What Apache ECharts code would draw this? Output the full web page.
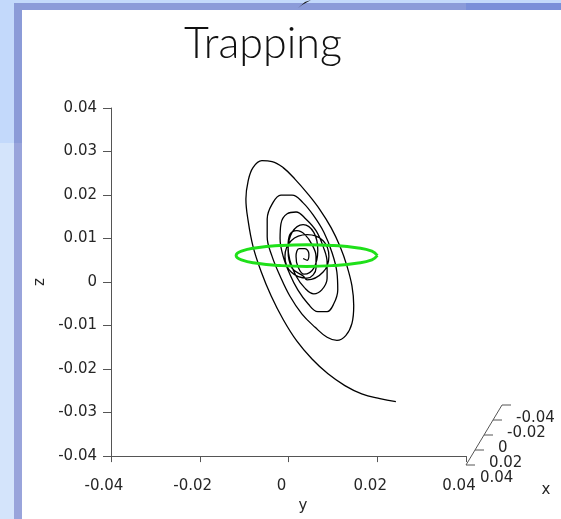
<!DOCTYPE html>
<html><head><meta charset="utf-8">
<script src="https://cdn.jsdelivr.net/npm/echarts@6/dist/echarts.min.js"></script>
<style>
html,body{margin:0;padding:0;background:#ffffff;overflow:hidden}
#bg{position:absolute;left:0;top:0;width:561px;height:519px}
#bg div{position:absolute}
#c{position:absolute;left:0;top:0;width:561px;height:519px}
</style>
</head><body>
<div id="bg">
  <div style="left:0px;top:0px;width:14px;height:143px;background:#c3d9fb"></div>
  <div style="left:0px;top:143px;width:14px;height:376px;background:#d4e4fb"></div>
  <div style="left:14px;top:0px;width:547px;height:3px;background:#c3d9fb"></div>
  <div style="left:14px;top:3px;width:8px;height:140px;background:#8b9bd8"></div>
  <div style="left:14px;top:143px;width:8px;height:376px;background:#99a4db"></div>
  <div style="left:22px;top:3px;width:444px;height:7px;background:#8b9bd9"></div>
  <div style="left:466px;top:3px;width:95px;height:7px;background:#7a8fd9"></div>
</div>
<div id="c"></div>
<script>
// Trajectory projected on the (y, z) plane
const trajY = [0.0242,0.0206,0.0165,0.0127,0.0089,0.0053,0.0019,-0.0012,-0.0039,-0.0062,
  -0.0080,-0.0091,-0.0096,-0.0091,-0.0080,-0.0060,-0.0037,-0.0012,0.0015,0.0044,
  0.0071,0.0096,0.0116,0.0132,0.0143,0.0147,0.0143,0.0129,0.0109,0.0087,
  0.0060,0.0030,0.0003,-0.0019,-0.0037,-0.0048,-0.0048,-0.0037,-0.0017,0.0008,
  0.0033,0.0057,0.0080,0.0098,0.0109,0.0111,0.0102,0.0087,0.0066,0.0044,
  0.0021,0.0003,-0.0012,-0.0019,-0.0017,-0.0003,0.0017,0.0039,0.0062,0.0078,
  0.0087,0.0087,0.0075,0.0057,0.0037,0.0017,0.0003,-0.0001,0.0003,0.0019,
  0.0037,0.0053,0.0062,0.0062,
  0.0042,0.0006,-0.0008,0.0006,0.0042,0.0078,0.0091,0.0078,0.0042,
  0.0033,0.0008,-0.0001,0.0008,0.0033,0.0057,0.0066,0.0057,0.0035,
  0.0021,0.0017,0.0024,0.0037,0.0046,0.0042,0.0033];
const trajZ = [-0.0275,-0.0268,-0.0257,-0.0238,-0.0211,-0.0177,-0.0136,-0.0086,-0.0032,0.0025,
  0.0082,0.0141,0.0191,0.0232,0.0263,0.0279,0.0277,0.0263,0.0236,0.0202,
  0.0166,0.0125,0.0082,0.0036,-0.0009,-0.0054,-0.0095,-0.0123,-0.0134,-0.0127,
  -0.0104,-0.0073,-0.0032,0.0014,0.0059,0.0104,0.0145,0.0179,0.0200,0.0200,
  0.0182,0.0152,0.0114,0.0068,0.0023,-0.0018,-0.0050,-0.0068,-0.0068,-0.0050,
  -0.0018,0.0018,0.0059,0.0100,0.0134,0.0157,0.0161,0.0145,0.0118,0.0082,
  0.0045,0.0009,-0.0018,-0.0027,-0.0014,0.0014,0.0050,0.0082,0.0109,0.0118,
  0.0109,0.0086,0.0059,0.0032,
  0.0009,0.0023,0.0059,0.0095,0.0109,0.0095,0.0059,0.0023,0.0005,
  0.0014,0.0032,0.0073,0.0114,0.0132,0.0114,0.0073,0.0032,0.0018,
  0.0036,0.0059,0.0077,0.0077,0.0064,0.0050,0.0054];
// Green trap ring (projected)
const ringY = [0.0200,0.0188,0.0153,0.0102,0.0041,-0.0020,-0.0071,-0.0106,-0.0118,-0.0106,-0.0071,-0.0020,0.0041,0.0102,0.0153,0.0188,0.0200];
const ringZ = [0.0061,0.0071,0.0079,0.0084,0.0086,0.0084,0.0079,0.0071,0.0061,0.0051,0.0043,0.0038,0.0036,0.0038,0.0043,0.0051,0.0061];
// Tick labels
const zTicks = [-0.04,-0.03,-0.02,-0.01,0,0.01,0.02,0.03,0.04];
const zTickLabels = ['-0.04','-0.03','-0.02','-0.01','0','0.01','0.02','0.03','0.04'];
const yTicks = [-0.04,-0.02,0,0.02,0.04];
const yTickLabels = ['-0.04','-0.02','0','0.02','0.04'];
const xTicks = [-0.04,-0.02,0,0.02,0.04];
const xTickLabels = ['-0.04','-0.02','0','0.02','0.04'];

function lab(ticks, labels, v){
  for (let i=0;i<ticks.length;i++) if (Math.abs(ticks[i]-v)<1e-9) return labels[i];
  return '';
}
const AX = '#555555', TX = '#262626', FONT = 'DejaVu Sans';

const chart = echarts.init(document.getElementById('c'), null, {renderer:'canvas'});
chart.setOption({
  backgroundColor: 'transparent',
  animation: false,
  graphic: [
    {type:'polygon', shape:{points:[[298,8],[305,2],[311,0],[302,5]]}, style:{fill:'#111'}},
    {type:'text', x:263, y:44, style:{text:'Trapping', fontFamily:'Lato', fontWeight:300, fontSize:43, fill:'#111', textAlign:'center', textVerticalAlign:'middle'}},
    {type:'text', x:546, y:490, style:{text:'x', font:'15px DejaVu Sans', fill:TX, textAlign:'center', textVerticalAlign:'middle'}}
  ],
  grid: [
    {left:111, top:108, width:355, height:353},
    {left:466, top:405, width:36, height:60}
  ],
  xAxis: [
    {gridIndex:0, type:'value', min:-0.04, max:0.04, interval:0.02,
     name:'y', nameLocation:'middle', nameGap:41,
     nameTextStyle:{color:TX, fontSize:15, fontFamily:FONT, padding:[0,0,0,29]},
     axisLine:{onZero:false, lineStyle:{color:AX}}, axisTick:{show:true, length:6, lineStyle:{color:AX}},
     splitLine:{show:false},
     axisLabel:{color:TX, fontSize:15, fontFamily:FONT, margin:23, padding:[0,14,0,0],
                formatter:v=>lab(yTicks,yTickLabels,v)}},
    {gridIndex:1, type:'value', min:-0.04, max:0.04, inverse:true, show:false}
  ],
  yAxis: [
    {gridIndex:0, type:'value', min:-0.04, max:0.04, interval:0.01,
     name:'z', nameLocation:'middle', nameGap:60, nameRotate:90,
     nameTextStyle:{color:TX, fontSize:15, fontFamily:FONT},
     axisLine:{onZero:false, lineStyle:{color:AX}}, axisTick:{show:true, length:8, lineStyle:{color:AX}},
     splitLine:{show:false},
     axisLabel:{color:TX, fontSize:15, fontFamily:FONT, margin:14,
                formatter:v=>lab(zTicks,zTickLabels,v)}},
    {gridIndex:1, type:'value', min:-0.04, max:0.04, inverse:true, show:false}
  ],
  series: [
    {type:'line', xAxisIndex:0, yAxisIndex:0, data:trajY.map((v,i)=>[v,trajZ[i]]),
     smooth:0.4, showSymbol:false, symbol:'none', clip:false,
     lineStyle:{color:'#000', width:1.3}, z:3},
    {type:'line', xAxisIndex:0, yAxisIndex:0, data:ringY.map((v,i)=>[v,ringZ[i]]),
     smooth:0.5, showSymbol:false, symbol:'none', clip:false,
     lineStyle:{color:'#1fe01a', width:3}, z:4},
    {type:'line', xAxisIndex:1, yAxisIndex:1, data:[[xTicks[0],xTicks[0]],[xTicks[xTicks.length-1],xTicks[xTicks.length-1]]],
     showSymbol:false, symbol:'none', clip:false, lineStyle:{color:AX, width:1}, z:2},
    {type:'custom', xAxisIndex:1, yAxisIndex:1, clip:false, z:2,
     data:xTicks.map(v=>[v,v]),
     renderItem:(params, api)=>{
       const p = api.coord([api.value(0), api.value(1)]);
       return {type:'group', children:[
         {type:'line', shape:{x1:p[0], y1:p[1], x2:p[0]+9, y2:p[1]}, style:{stroke:AX, lineWidth:1}},
         {type:'text', x:p[0]+14, y:p[1]+13, style:{text:xTickLabels[params.dataIndex], fill:TX,
           font:'15px DejaVu Sans', textAlign:'left', textVerticalAlign:'middle'}}
       ]};
     }}
  ]
});
</script></body></html>
